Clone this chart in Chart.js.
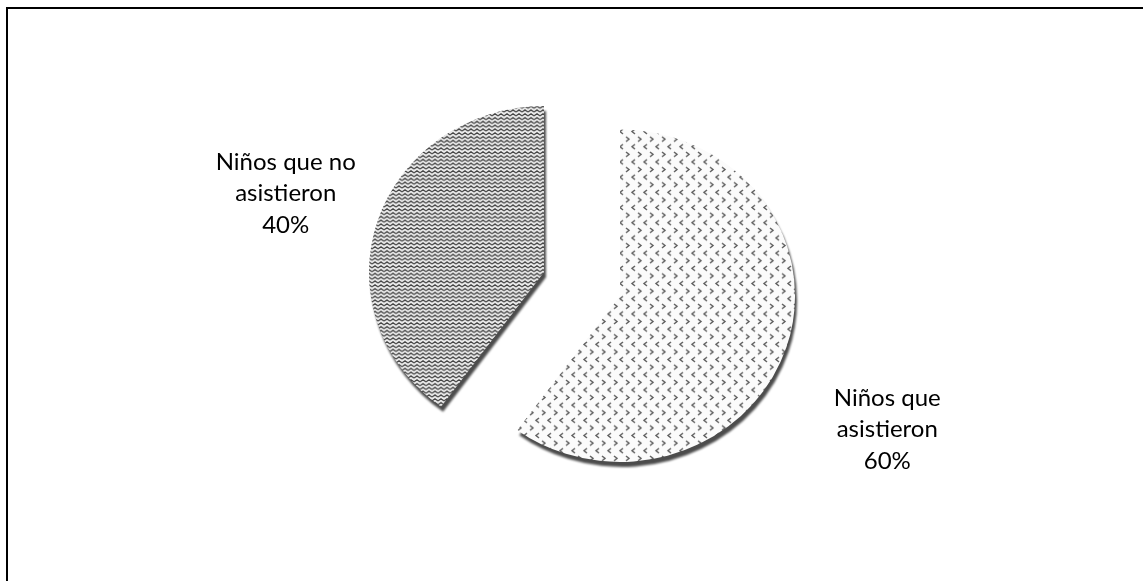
<!DOCTYPE html>
<html>
<head>
<meta charset="utf-8">
<script src="https://cdn.jsdelivr.net/npm/chart.js@4.4.0/dist/chart.umd.min.js"></script>
<style>
  html, body { margin: 0; padding: 0; background: #fff; }
  body { width: 1143px; height: 581px; overflow: hidden; position: relative; }
  .frame { position: absolute; left: 6px; top: 7px; right: 0; bottom: 0;
           border-left: 2px solid #000; border-top: 2px solid #000; }
  .wrap { position: absolute; left: 0; top: 0; width: 1143px; height: 581px; }
</style>
</head>
<body>
<div class="frame"></div>
<div class="wrap"><canvas id="pie"></canvas></div>
<script>
var categories = [['Niños que', 'asistieron'], ['Niños que no', 'asistieron']];
var values = [60, 40];

// pattern fills, made on a small tile
function makePattern(w, h, draw){
  var c = document.createElement('canvas');
  c.width = w; c.height = h;
  var x = c.getContext('2d');
  draw(x);
  return x.createPattern(c, 'repeat');
}

var lightFill = makePattern(12, 16, function(x){
  x.fillStyle = '#fbfbfb';
  x.fillRect(0, 0, 12, 16);
  x.strokeStyle = '#5e5e5e';
  x.lineWidth = 1.5;
  x.beginPath();
  x.moveTo(2, 1); x.lineTo(5, 3.5); x.lineTo(2, 6);
  x.moveTo(11, 9); x.lineTo(8, 11.5); x.lineTo(11, 14);
  x.stroke();
});

var darkFill = makePattern(6, 4, function(x){
  x.fillStyle = '#ececec';
  x.fillRect(0, 0, 6, 4);
  x.strokeStyle = '#3a3a3a';
  x.lineWidth = 1.2;
  x.beginPath();
  x.moveTo(0, 3); x.lineTo(3, 0.8); x.lineTo(6, 3);
  x.stroke();
});

// pulls every slice away from the centre, like an exploded excel pie
var explode = {
  id: 'explode',
  afterDatasetsUpdate: function(chart, args, opts){
    chart.getDatasetMeta(0).data.forEach(function(arc){
      var mid = (arc.startAngle + arc.endAngle) / 2;
      arc.x += Math.cos(mid) * opts.distance;
      arc.y += Math.sin(mid) * opts.distance;
    });
  },
  beforeDatasetsDraw: function(chart, args, opts){
    var ctx = chart.ctx, a = chart.chartArea;
    var cx = (a.left + a.right) / 2, cy = (a.top + a.bottom) / 2;
    ctx.save();
    ctx.translate(cx, cy);
    ctx.scale(1, opts.tilt);
    ctx.translate(-cx, -cy);
    ctx.shadowColor = 'rgba(0,0,0,0.7)';
    ctx.shadowOffsetX = 2;
    ctx.shadowOffsetY = 5;
    ctx.shadowBlur = 2;
  },
  afterDatasetsDraw: function(chart){
    chart.ctx.restore();
  }
};

var sliceLabels = {
  id: 'sliceLabels',
  afterDraw: function(chart, args, opts){
    var ctx = chart.ctx, a = chart.chartArea;
    var cx = (a.left + a.right) / 2, cy = (a.top + a.bottom) / 2;
    var total = values.reduce(function(s, v){ return s + v; }, 0);
    ctx.save();
    ctx.font = opts.font;
    ctx.fillStyle = '#000';
    ctx.textAlign = 'center';
    ctx.textBaseline = 'middle';
    chart.getDatasetMeta(0).data.forEach(function(arc, i){
      var mid = (arc.startAngle + arc.endAngle) / 2;
      var r = arc.outerRadius * opts.factor;
      var x = cx + Math.cos(mid) * r + opts.nudge[i][0];
      var y = cy + Math.sin(mid) * r + opts.nudge[i][1];
      var lines = categories[i].concat([Math.round(values[i] / total * 100) + '%']);
      lines.forEach(function(t, j){
        ctx.fillText(t, x, y + (j - 1) * opts.lineHeight);
      });
    });
    ctx.restore();
  }
};

var chart = new Chart(document.getElementById('pie'), {
  type: 'pie',
  data: {
    labels: categories,
    datasets: [{
      data: values,
      backgroundColor: [lightFill, darkFill],
      borderWidth: 0
    }]
  },
  options: {
    responsive: true,
    maintainAspectRatio: false,
    animation: false,
    events: [],
    radius: 175,
    layout: { padding: { left: 21, right: 0, top: 0, bottom: 13 } },
    plugins: {
      legend: { display: false },
      tooltip: { enabled: false },
      explode: { distance: 40, tilt: 0.95 },
      sliceLabels: {
        font: '24px Lato',
        lineHeight: 31.5,
        factor: 1.75,
        nudge: [[14, 51], [-5, 4]]
      }
    }
  },
  plugins: [explode, sliceLabels]
});
</script>
</body>
</html>
